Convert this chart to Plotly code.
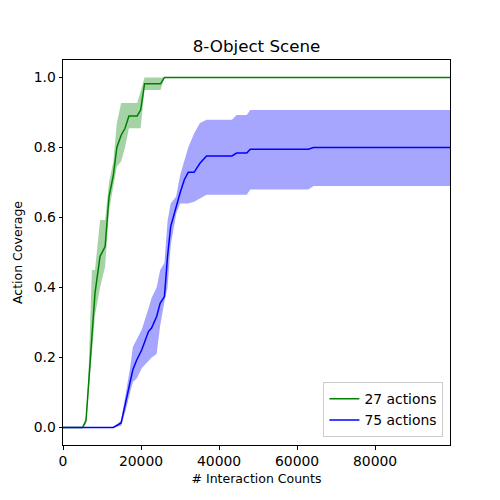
import plotly.graph_objects as go

# 27 actions (green)
steps_27 = [0, 5000, 5900, 6500, 7400, 8200, 9500, 10800, 11800, 12900, 13800, 14900,
            15900, 16900, 19000, 19900, 20900, 25000, 26000, 99200]
mean_27 = [0, 0, 0.02, 0.117, 0.27, 0.384, 0.489, 0.517, 0.66, 0.72, 0.80, 0.835,
           0.855, 0.89, 0.89, 0.907, 0.982, 0.982, 1.0, 1.0]
upper_27 = [0, 0, 0.03, 0.14, 0.45, 0.45, 0.593, 0.593, 0.70, 0.76, 0.87, 0.927,
            0.927, 0.927, 0.927, 0.96, 1.0, 1.0, 1.0, 1.0]
lower_27 = [0, 0, 0.01, 0.09, 0.22, 0.32, 0.40, 0.46, 0.62, 0.69, 0.746, 0.76,
            0.80, 0.855, 0.855, 0.855, 0.964, 0.964, 1.0, 1.0]

# 75 actions (blue)
steps_75 = [0, 12900, 14900, 16100, 17200, 17900, 18900, 20200, 21900, 22700, 24000,
            24900, 26000, 26800, 27600, 29000, 30000, 31100, 32100, 33600, 35100,
            36800, 43300, 44500, 47100, 48000, 62900, 64200, 99200]
mean_75 = [0, 0, 0.013, 0.074, 0.128, 0.165, 0.193, 0.222, 0.274, 0.284, 0.317,
           0.355, 0.374, 0.489, 0.574, 0.631, 0.67, 0.708, 0.729, 0.729, 0.755,
           0.776, 0.776, 0.784, 0.784, 0.795, 0.795, 0.80, 0.80]
upper_75 = [0, 0, 0.02, 0.10, 0.17, 0.23, 0.25, 0.28, 0.34, 0.37, 0.40,
            0.45, 0.47, 0.59, 0.64, 0.66, 0.72, 0.76, 0.80, 0.84, 0.87,
            0.879, 0.879, 0.893, 0.893, 0.907, 0.907, 0.907, 0.907]
lower_75 = [0, 0, 0.005, 0.05, 0.10, 0.13, 0.14, 0.17, 0.19, 0.20, 0.21,
            0.29, 0.36, 0.40, 0.52, 0.61, 0.64, 0.64, 0.64, 0.645, 0.655,
            0.665, 0.665, 0.665, 0.665, 0.68, 0.68, 0.69, 0.69]

x_ticks = [0, 20000, 40000, 60000, 80000]
y_ticks = [0.0, 0.2, 0.4, 0.6, 0.8, 1.0]

FONT = "DejaVu Sans"

fig = go.Figure()


def add_band(x, lo, hi, fill):
    fig.add_trace(go.Scatter(x=x, y=lo, mode="lines", line=dict(width=0),
                             showlegend=False, hoverinfo="skip"))
    fig.add_trace(go.Scatter(x=x, y=hi, mode="lines", line=dict(width=0),
                             fill="tonexty", fillcolor=fill,
                             showlegend=False, hoverinfo="skip"))


add_band(steps_27, lower_27, upper_27, "rgba(0,128,0,0.35)")
add_band(steps_75, lower_75, upper_75, "rgba(0,0,255,0.35)")

fig.add_trace(go.Scatter(x=steps_27, y=mean_27, mode="lines", name="27 actions",
                         line=dict(color="green", width=1.5)))
fig.add_trace(go.Scatter(x=steps_75, y=mean_75, mode="lines", name="75 actions",
                         line=dict(color="blue", width=1.5)))

axis_style = dict(showline=True, mirror=True, linecolor="black", linewidth=1,
                  ticks="outside", ticklen=3.5, tickcolor="black", showgrid=False,
                  zeroline=False, automargin=False,
                  tickfont=dict(family=FONT, size=13.9, color="black"))

fig.update_xaxes(range=[0, 99200], tickvals=x_ticks, ticktext=[str(v) for v in x_ticks],
                 title=dict(text="# Interaction Counts",
                            font=dict(family=FONT, size=12.5, color="black"), standoff=6),
                 **axis_style)
fig.update_yaxes(range=[-0.05, 1.05], tickvals=y_ticks, tickformat=".1f",
                 title=dict(text="Action Coverage",
                            font=dict(family=FONT, size=12.5, color="black"), standoff=8),
                 **axis_style)

# page body has an 8px margin, so the figure is offset by 8px
fig.update_layout(
    width=500, height=500,
    margin=dict(l=54.5, r=58, t=52, b=63),
    plot_bgcolor="white", paper_bgcolor="white",
    title=dict(text="8-Object Scene", x=0.5, xref="paper", y=1 - 38 / 500,
               yref="container", yanchor="middle", xanchor="center",
               font=dict(family=FONT, size=16.7, color="black")),
    legend=dict(x=0.983, y=0.02, xanchor="right", yanchor="bottom",
                bgcolor="rgba(255,255,255,0.8)", bordercolor="#cccccc", borderwidth=1,
                font=dict(family=FONT, size=13.9, color="black"),
                traceorder="normal", tracegroupgap=0),
    showlegend=True,
)

fig.write_html("out.html")
